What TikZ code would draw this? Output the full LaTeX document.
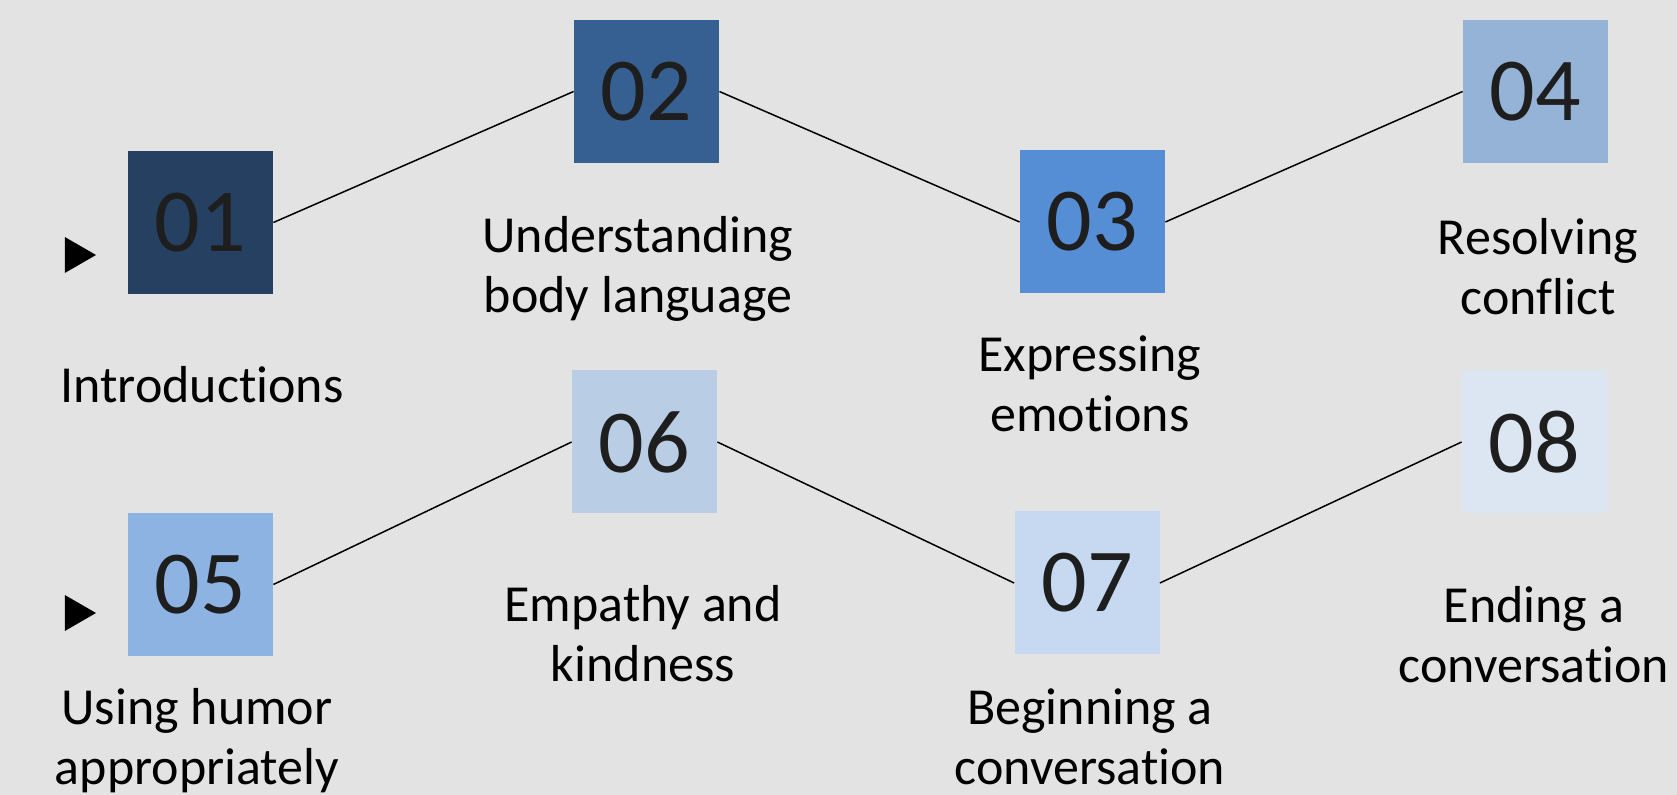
\documentclass[tikz,border=0pt]{standalone}
\usepackage{fontspec}
\setmainfont{Carlito}[Ligatures=NoCommon]
\usetikzlibrary{shapes.geometric}

\definecolor{bg}{HTML}{E3E3E3}
\definecolor{c1}{HTML}{264061}
\definecolor{c2}{HTML}{376092}
\definecolor{c3}{HTML}{558ED5}
\definecolor{c4}{HTML}{95B3D7}
\definecolor{c5}{HTML}{8DB3E2}
\definecolor{c6}{HTML}{B9CDE5}
\definecolor{c7}{HTML}{C6D9F1}
\definecolor{c8}{HTML}{DCE6F2}
\definecolor{num}{HTML}{1E1E1E}

\begin{document}
\begin{tikzpicture}
  [x=0.5pt,y=-0.5pt,
   box/.style={rectangle,minimum width=72.5pt,minimum height=71.5pt,inner sep=0pt,
     text=num,font=\fontsize{45}{45}\selectfont},
   lbl/.style={align=center,anchor=base,inner sep=0pt,
     font=\fontsize{26}{30}\selectfont},
   marker/.style={regular polygon,regular polygon sides=3,rotate=-90,
     minimum size=20.8pt,inner sep=0pt,fill=black}]
  \fill[bg] (0,0) rectangle (1677,795);
  \useasboundingbox (0,0) rectangle (1677,795);

  % numbered steps
  \node[box,fill=c1] (n1) at (200.5,222.5) {01};
  \node[box,fill=c2] (n2) at (646.5,91.5)  {02};
  \node[box,fill=c3] (n3) at (1092.5,222)  {03};
  \node[box,fill=c4] (n4) at (1535.5,91.5) {04};
  \node[box,fill=c5] (n5) at (200.5,584.5) {05};
  \node[box,fill=c6] (n6) at (644.5,442)   {06};
  \node[box,fill=c7] (n7) at (1087,583)    {07};
  \node[box,fill=c8] (n8) at (1534.5,442)  {08};

  % row markers
  \node[marker] (m1) at (75.2,255) {};
  \node[marker] (m2) at (75.2,613) {};

  % captions
  \node[lbl] (t1) at (202,403)  {Introductions};
  \node[lbl] (t2) at (638,313)  {Understanding\\body language};
  \node[lbl] (t3) at (1090,432) {Expressing\\emotions};
  \node[lbl] (t4) at (1538,315) {Resolving\\conflict};
  \node[lbl] (t5) at (197,785)  {Using humor\\appropriately};
  \node[lbl] (t6) at (643,682)  {Empathy and\\kindness};
  \node[lbl] (t7) at (1090,785) {Beginning a\\conversation};
  \node[lbl] (t8) at (1534,683) {Ending a\\conversation};

\foreach \from/\to in
{n1/n2, n2/n3, n3/n4, n5/n6, n6/n7, n7/n8}
    \draw[line width=0.75pt] (\from.east) -- (\to.west);

\end{tikzpicture}
\end{document}
